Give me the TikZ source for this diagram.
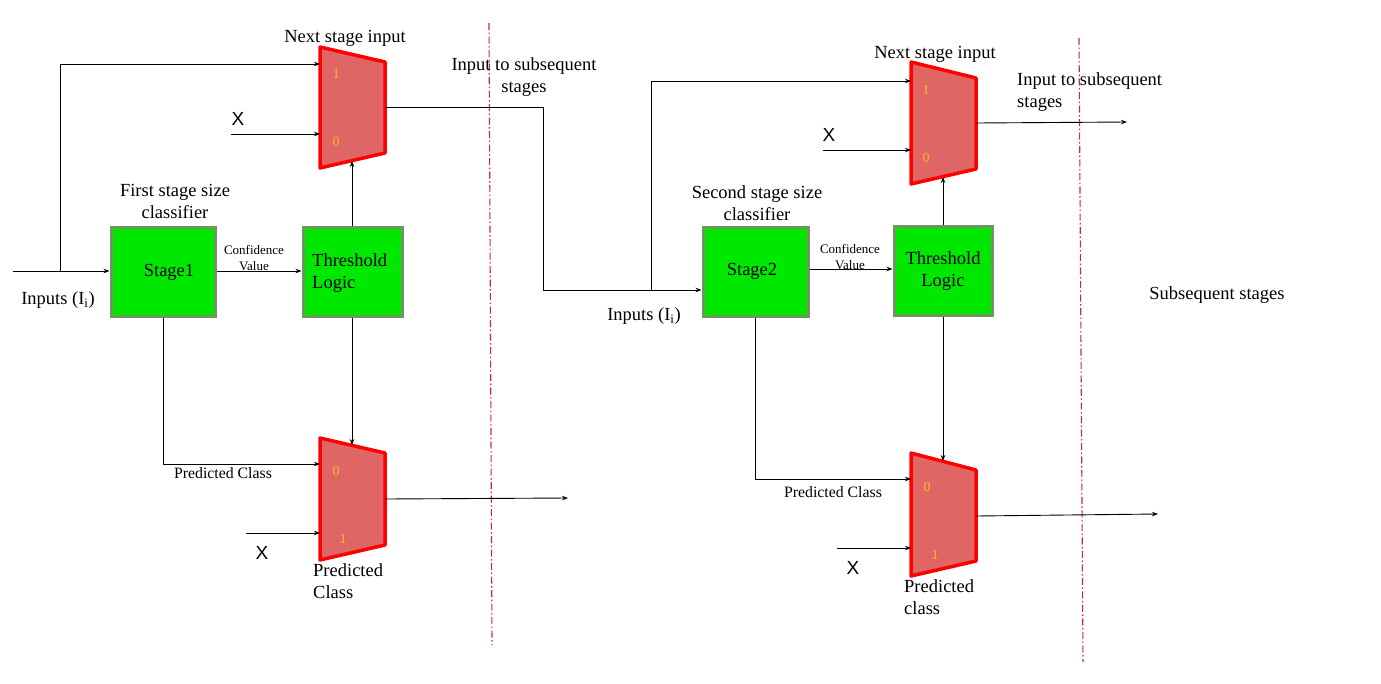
\documentclass[tikz,border=0pt]{standalone}
\usepackage{fontspec}
\setmainfont{Liberation Serif}
\newfontfamily\xsans{Liberation Sans}
\usetikzlibrary{arrows.meta}
\definecolor{muxfill}{RGB}{224,102,102}
\definecolor{muxedge}{RGB}{255,0,0}
\definecolor{boxfill}{RGB}{0,232,0}
\definecolor{boxedge}{RGB}{110,150,95}
\definecolor{sep}{RGB}{200,40,70}
\definecolor{digit}{RGB}{240,190,40}
\tikzset{
  conn/.style={draw=black, line width=0.9pt},
  arr/.style={conn, -{Stealth[length=6pt,width=4.5pt]}},
  muxshape/.style={fill=muxfill, draw=muxedge, line width=3.5pt, line join=round},
  greenbox/.style={draw=boxedge, fill=boxfill, line width=3pt, minimum width=#1, minimum height=89pt, inner sep=0pt},
  lbl/.style={inner sep=0pt, font=\fontsize{18.5}{22}\selectfont},
  small/.style={inner sep=0pt, font=\fontsize{15.8}{18}\selectfont},
  tiny/.style={inner sep=0pt, font=\fontsize{13}{16}\selectfont},
  xlbl/.style={inner sep=0pt, font=\xsans\fontsize{19}{22}\selectfont},
  dig/.style={inner sep=0pt, text=digit, font=\fontsize{14}{16}\selectfont},
  sepline/.style={draw=sep, line width=1.1pt, dash pattern=on 7pt off 2.5pt on 1.5pt off 2.5pt},
}
\begin{document}
\begin{tikzpicture}[x=1pt,y=-1pt]
\useasboundingbox (0,0) rectangle (1381,683);
\fill[white] (0,0) rectangle (1381,683);

% separator lines
\coordinate (s1a) at (489,23); \coordinate (s1b) at (492,645);
\coordinate (s2a) at (1079,38); \coordinate (s2b) at (1083,662);
\draw[sepline] (s1a) -- (s1b);
\draw[sepline] (s2a) -- (s2b);

% multiplexers
\draw[muxshape] (320,47) -- (385,62) -- (385,153) -- (320,168) -- cycle;
\draw[muxshape] (320,438) -- (385,453) -- (385,545) -- (320,560) -- cycle;
\draw[muxshape] (911,62) -- (976,78) -- (976,169) -- (911,184) -- cycle;
\draw[muxshape] (911,453) -- (976,470) -- (976,561) -- (911,576) -- cycle;

% mux ports
\coordinate (m1in1) at (320,64);  \coordinate (m1in0) at (320,134);
\coordinate (m1sel) at (352,161); \coordinate (m1out) at (385,107);
\coordinate (b1in0) at (320,464); \coordinate (b1in1) at (320,533);
\coordinate (b1sel) at (352,445); \coordinate (b1out) at (385,499);
\coordinate (m2in1) at (911,81);  \coordinate (m2in0) at (911,150);
\coordinate (m2sel) at (943,177); \coordinate (m2out) at (976,123);
\coordinate (b2in0) at (911,479); \coordinate (b2in1) at (911,548);
\coordinate (b2sel) at (943,461); \coordinate (b2out) at (976,516);

% digits
\node[dig] (d1a) at (336,74) {1};
\node[dig] (d1b) at (336,142) {0};
\node[dig] (d2a) at (336,471) {0};
\node[dig] (d2b) at (343,539) {1};
\node[dig] (d3a) at (926,90) {1};
\node[dig] (d3b) at (926,158) {0};
\node[dig] (d4a) at (927,487) {0};
\node[dig] (d4b) at (935,555) {1};

% boxes
\node[greenbox=104pt] (st1) at (163,271.5) {};
\node[greenbox=99pt] (th1) at (352.5,271.5) {};
\node[greenbox=105pt] (st2) at (755.5,272) {};
\node[greenbox=98pt] (th2) at (943,270.5) {};
\node[lbl] (st1t) at (169,272) {Stage1};
\node[lbl, align=left, anchor=west] (th1t) at (312,273) {Threshold\\Logic};
\node[lbl] (st2t) at (752,271) {Stage2};
\node[lbl, align=center] (th2t) at (943,271) {Threshold\\Logic};

% free ends
\coordinate (in1) at (13,271);
\coordinate (j1) at (60,271);
\coordinate (x1s) at (231,134);
\coordinate (x1bs) at (246,533);
\coordinate (o1) at (568,498);
\coordinate (c1) at (543,107);
\coordinate (c2) at (543,290);
\coordinate (j2) at (651,290);
\coordinate (x2s) at (823,150);
\coordinate (x2bs) at (837,548);
\coordinate (o2) at (1127,122);
\coordinate (o3) at (1158,514);

% connectors stage 1
\draw[arr] (in1) -- (st1.west |- in1);
\draw[arr] (j1) -- (j1 |- m1in1) -- (m1in1);
\draw[arr] (x1s) -- (m1in0);
\draw[arr] (st1.east |- in1) -- (th1.west |- in1);
\draw[arr] (th1.north -| m1sel) -- (m1sel);
\draw[arr] (th1.south -| b1sel) -- (b1sel);
\draw[arr] (st1.south) -- (st1.south |- b1in0) -- (b1in0);
\draw[arr] (x1bs) -- (b1in1);
\draw[arr] (b1out) -- (o1);
\draw[arr] (m1out) -- (c1) -- (c2) -- (st2.west |- c2);

% connectors stage 2
\draw[arr] (j2) -- (j2 |- m2in1) -- (m2in1);
\draw[arr] (x2s) -- (m2in0);
\draw[arr] (st2.east |- 0,269) -- (th2.west |- 0,269);
\draw[arr] (th2.north -| m2sel) -- (m2sel);
\draw[arr] (th2.south -| b2sel) -- (b2sel);
\draw[arr] (st2.south) -- (st2.south |- b2in0) -- (b2in0);
\draw[arr] (x2bs) -- (b2in1);
\draw[arr] (m2out) -- (o2);
\draw[arr] (b2out) -- (o3);

% labels
\node[lbl] (n1) at (345,38) {Next stage input};
\node[lbl] (n2) at (935,54) {Next stage input};
\node[lbl, align=center] (is1) at (524,77) {Input to subsequent\\stages};
\node[lbl, align=left, anchor=west] (is2) at (1017,92) {Input to subsequent\\stages};
\node[lbl, align=center] (fs1) at (175,201) {First stage size\\classifier};
\node[lbl, align=center] (fs2) at (757,203) {Second stage size\\classifier};
\node[tiny, align=center] (cv1) at (254,258) {Confidence\\Value};
\node[tiny, align=center] (cv2) at (850,257) {Confidence\\Value};
\node[lbl] (inp1) at (58,300) {Inputs (I\textsubscript{i})};
\node[lbl] (inp2) at (644,316) {Inputs (I\textsubscript{i})};
\node[small] (pc1) at (223,473) {Predicted Class};
\node[small] (pc2) at (833,492) {Predicted Class};
\node[xlbl] (x1) at (238,119) {X};
\node[xlbl] (x2) at (262,553) {X};
\node[xlbl] (x3) at (829,135) {X};
\node[xlbl] (x4) at (853,568) {X};
\node[lbl, align=left, anchor=west] (pp1) at (313,581) {Predicted\\Class};
\node[lbl, align=left, anchor=west] (pp2) at (904,597) {Predicted\\class};
\node[lbl] (ss) at (1217,295) {Subsequent stages};
\end{tikzpicture}
\end{document}
